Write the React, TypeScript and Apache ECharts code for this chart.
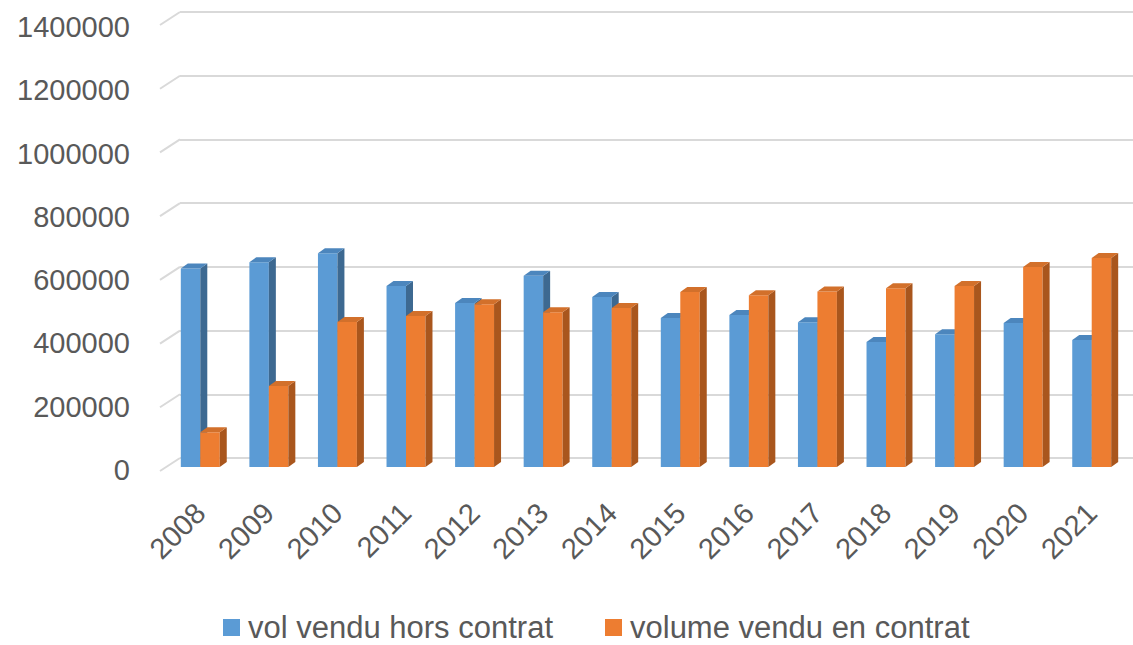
import React, { useEffect, useRef } from "react";
import * as echarts from "echarts";

const years = ["2008", "2009", "2010", "2011", "2012", "2013", "2014", "2015", "2016", "2017", "2018", "2019", "2020", "2021"];
const horsContrat = [623000, 643000, 671000, 568000, 515000, 600000, 534000, 468000, 477000, 454000, 392000, 417000, 452000, 399000];
const enContrat = [109000, 254000, 455000, 474000, 511000, 486000, 499000, 549000, 539000, 551000, 561000, 568000, 628000, 656000];
const yTicks = [0, 200000, 400000, 600000, 800000, 1000000, 1200000, 1400000];
const seriesNames = ["vol vendu hors contrat", "volume vendu en contrat"];

const FONT = "Liberation Sans";
const TEXT = "#595959";
const GRID = "#d9d9d9";
const faces = [
  { front: "#5b9bd5", top: "#4c86bd", side: "#3d6991" },
  { front: "#ed7d31", top: "#d2702b", side: "#a9561d" },
];

export default function App() {
  const ref = useRef<HTMLDivElement>(null);
  useEffect(() => {
    const chart = echarts.init(ref.current!, null, { renderer: "svg" });
    const DX = 7;
    const DY = 5;
    const makeBarSeries = (s: number, values: number[]) => ({
      type: "custom",
      name: seriesNames[s],
      xAxisIndex: 2,
      yAxisIndex: 2,
      itemStyle: { color: faces[s].front },
      data: values.map((v, i) => [i, v]),
      renderItem: (params: any, api: any) => {
        const idx = api.value(0);
        const v = api.value(1);
        const base = api.coord([idx, 0]);
        const top = api.coord([idx, v]);
        const band = api.size([1, 0])[0];
        const w = band * 0.284;
        const x0 = s === 0 ? base[0] - w : base[0];
        const yT = top[1];
        const yB = base[1];
        return {
          type: "group",
          children: [
            {
              type: "rect",
              shape: { x: x0, y: yT, width: w, height: yB - yT },
              style: { fill: faces[s].front },
            },
            {
              type: "polygon",
              shape: { points: [[x0 + w, yT], [x0 + w + DX, yT - DY], [x0 + w + DX, yB - DY], [x0 + w, yB]] },
              style: { fill: faces[s].side },
            },
            {
              type: "polygon",
              shape: { points: [[x0, yT], [x0 + DX, yT - DY], [x0 + w + DX, yT - DY], [x0 + w, yT]] },
              style: { fill: faces[s].top },
            },
          ],
        };
      },
    });

    chart.setOption({
      animation: false,
      backgroundColor: "#ffffff",
      textStyle: { fontFamily: FONT },
      grid: [
        { left: 180, right: 0, top: 12, height: 446 },
        { left: 160, width: 20, top: 27, height: 443 },
        { left: 166, width: 960, top: 21, height: 446 },
      ],
      xAxis: [
        { type: "category", gridIndex: 0, data: years, show: false },
        { type: "category", gridIndex: 1, data: years, show: false },
        {
          type: "category",
          gridIndex: 2,
          data: years,
          axisLine: { show: false },
          axisTick: { show: false },
          axisLabel: { rotate: 45, margin: 41, color: TEXT, fontSize: 29, fontFamily: FONT },
        },
      ],
      yAxis: [
        {
          type: "value",
          gridIndex: 0,
          min: 0,
          max: 1400000,
          interval: 200000,
          axisLabel: { show: false },
          axisLine: { show: false },
          axisTick: { show: false },
          splitLine: { lineStyle: { color: GRID, width: 2 } },
        },
        {
          type: "value",
          gridIndex: 1,
          min: 0,
          max: 1400000,
          interval: 200000,
          axisLabel: {
            color: TEXT,
            fontSize: 29,
            fontFamily: FONT,
            margin: 30,
            formatter: (v: number) => String(v),
          },
          axisLine: { show: false },
          axisTick: { show: false },
          splitLine: { show: false },
        },
        {
          type: "value",
          gridIndex: 2,
          min: 0,
          max: 1400000,
          interval: 200000,
          show: false,
          splitLine: { show: false },
        },
      ],
      legend: {
        data: seriesNames,
        bottom: -3,
        left: 218,
        icon: "rect",
        itemWidth: 17,
        itemHeight: 17,
        itemGap: 52,
        textStyle: { color: TEXT, fontSize: 31, fontFamily: FONT, padding: [0, 0, 0, 3] },
      },
      series: [
        {
          type: "custom",
          xAxisIndex: 0,
          yAxisIndex: 0,
          silent: true,
          data: yTicks.map((t) => [0, t]),
          renderItem: (params: any, api: any) => {
            const left = params.coordSys.x;
            const y = api.coord([0, api.value(1)])[1];
            return {
              type: "line",
              shape: { x1: left - 20, y1: y + 13, x2: left, y2: y },
              style: { stroke: GRID, lineWidth: 2 },
            };
          },
        },
        makeBarSeries(0, horsContrat),
        makeBarSeries(1, enContrat),
      ],
    });
    return () => chart.dispose();
  }, []);
  return <div ref={ref} style={{ position: "fixed", left: 0, top: 0, width: 1133, height: 645 }} />;
}
